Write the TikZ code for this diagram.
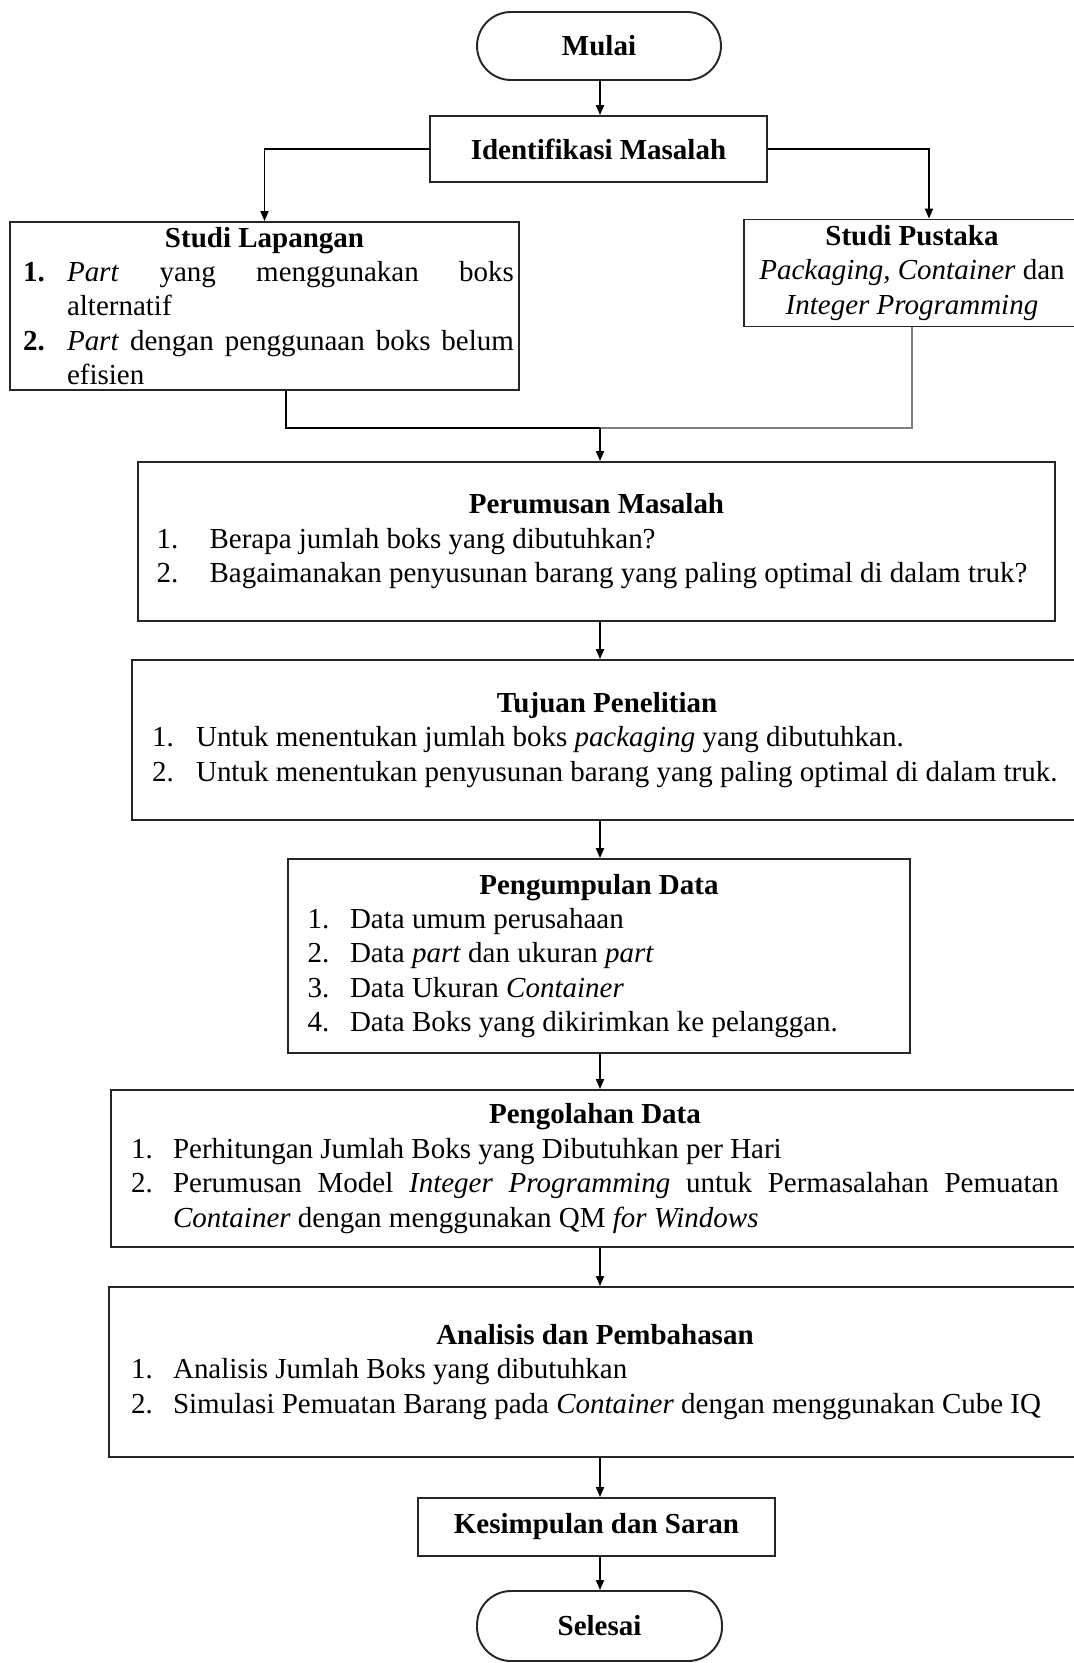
\documentclass[tikz,border=0pt]{standalone}
\usepackage{fontspec}
\setmainfont{Liberation Serif}
\usepackage{tikz}
\usetikzlibrary{arrows.meta}
\newlength{\labw}
\newcommand{\judul}[1]{{\centering\bfseries #1\par}}
\newcommand{\butir}[3][0.86cm]{\par\noindent\setlength{\labw}{#1}\hangindent=\labw\hangafter=1\makebox[\labw][l]{#2}#3\par}
\tikzset{
    kotak/.style={draw=black!85, line width=1.1pt, fill=white, inner sep=0pt, font=\fontsize{16.5}{19.6}\selectfont},
    terminal/.style={kotak, rounded corners=0.68cm}
}

\begin{document}
\begin{tikzpicture}[
                x=0.02cm, y=-0.02cm,
                panah/.style={draw, line width=1pt, -{Triangle[length=5.7pt, width=4.6pt]}},
                garis/.style={draw, line width=1pt}
            ]
                \useasboundingbox (0,0) rectangle (1073,1663);

                \node[terminal, minimum width=4.88cm, minimum height=1.36cm] (mulai) at (599,46) {\textbf{Mulai}};
                \node[kotak, minimum width=6.74cm, minimum height=1.32cm] (identifikasi) at (598.5,149) {\textbf{Identifikasi Masalah}};
                \node[kotak, align=justify, text width=9.98cm, minimum width=10.18cm, minimum height=3.36cm] (lapangan) at (264.5,306)
                    {\leftskip=0.16cm
                     \judul{Studi Lapangan}%
                     \butir[0.88cm]{\textbf{1.}}{\textit{Part} yang menggunakan boks\linebreak alternatif}%
                     \butir[0.88cm]{\textbf{2.}}{\textit{Part} dengan penggunaan boks belum\linebreak efisien}};
                \node[kotak, align=center, minimum width=6.72cm, minimum height=2.14cm] (pustaka) at (912,273)
                    {\textbf{Studi Pustaka}\\\textit{Packaging, Container} dan\\\textit{Integer Programming}};
                \node[kotak, align=flush left, text width=17.6cm, inner xsep=0.37cm, minimum height=3.18cm] (perumusan) at (596.5,541.5)
                    {\judul{Perumusan Masalah}%
                     \butir[1.06cm]{1.}{Berapa jumlah boks yang dibutuhkan?}%
                     \butir[1.06cm]{2.}{Bagaimanakan penyusunan barang yang paling optimal di dalam truk?}};
                \node[kotak, align=flush left, text width=18.2cm, inner xsep=0.4cm, minimum height=3.2cm] (tujuan) at (607,740)
                    {\judul{Tujuan Penelitian}%
                     \butir[0.88cm]{1.}{Untuk menentukan jumlah boks \textit{packaging} yang dibutuhkan.}%
                     \butir[0.88cm]{2.}{Untuk menentukan penyusunan barang yang paling optimal di dalam truk.}};
                \node[kotak, align=flush left, text width=11.66cm, inner xsep=0.4cm, minimum height=3.88cm] (pengumpulan) at (599,956)
                    {\judul{Pengumpulan Data}%
                     \butir[0.85cm]{1.}{Data umum perusahaan}%
                     \butir[0.85cm]{2.}{Data \textit{part} dan ukuran \textit{part}}%
                     \butir[0.85cm]{3.}{Data Ukuran \textit{Container}}%
                     \butir[0.85cm]{4.}{Data Boks yang dikirimkan ke pelanggan.}};
                \node[kotak, align=justify, text width=18.56cm, inner xsep=0.4cm, minimum height=3.14cm] (pengolahan) at (595,1168.5)
                    {\judul{Pengolahan Data}%
                     \butir[0.84cm]{1.}{Perhitungan Jumlah Boks yang Dibutuhkan per Hari}%
                     \butir[0.84cm]{2.}{Perumusan Model \textit{Integer Programming} untuk Permasalahan Pemuatan\linebreak \textit{Container} dengan menggunakan QM \textit{for Windows}}};
                \node[kotak, align=flush left, text width=18.56cm, inner xsep=0.44cm, minimum height=3.4cm] (analisis) at (595,1372)
                    {\judul{Analisis dan Pembahasan}%
                     \butir[0.84cm]{1.}{Analisis Jumlah Boks yang dibutuhkan}%
                     \butir[0.84cm]{2.}{Simulasi Pemuatan Barang pada \textit{Container} dengan menggunakan Cube IQ}};
                \node[kotak, minimum width=7.14cm, minimum height=1.16cm] (kesimpulan) at (596.5,1527) {\textbf{Kesimpulan dan Saran}};
                \node[terminal, minimum width=4.9cm, minimum height=1.4cm] (selesai) at (599.5,1626) {\textbf{Selesai}};

                \coordinate (poros) at (600,0);
                \coordinate (belokkanan) at (929,0);
                \coordinate (turunkiri) at (286,0);
                \coordinate (gabung) at (600,428);

                \draw[panah] (mulai.south -| poros) -- (identifikasi.north -| poros);
                \draw[panah] (identifikasi.west) -| (lapangan.north);
                \draw[panah] (identifikasi.east) -| (belokkanan |- pustaka.north);
                \draw[garis] (turunkiri |- lapangan.south) |- (gabung);
                \draw[garis, draw=gray, line width=0.6pt] (pustaka.south) |- (gabung);
                \draw[panah] (gabung) -- (perumusan.north -| poros);
                \draw[panah] (perumusan.south -| poros) -- (tujuan.north -| poros);
                \draw[panah] (tujuan.south -| poros) -- (pengumpulan.north -| poros);
                \draw[panah] (pengumpulan.south -| poros) -- (pengolahan.north -| poros);
                \draw[panah] (pengolahan.south -| poros) -- (analisis.north -| poros);
                \draw[panah] (analisis.south -| poros) -- (kesimpulan.north -| poros);
                \draw[panah] (kesimpulan.south -| poros) -- (selesai.north -| poros);
            \end{tikzpicture}
\end{document}
